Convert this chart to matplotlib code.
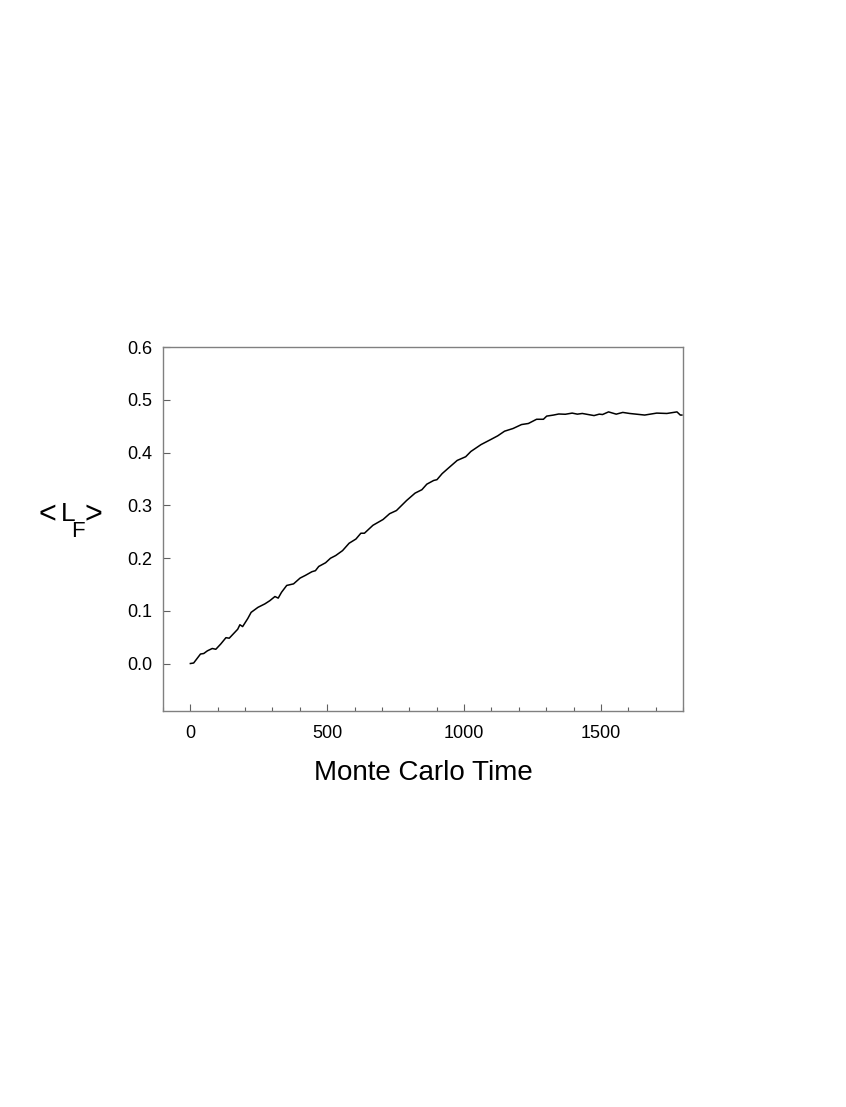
import matplotlib
matplotlib.use('Agg')
import matplotlib.pyplot as plt
from matplotlib.ticker import MultipleLocator

plt.rcParams['font.family'] = ['Liberation Sans', 'DejaVu Sans']

# values
mc_time = [0, 12, 37, 49, 62, 80, 93, 111, 130, 142, 173, 181, 191, 210, 222,
           247, 272, 290, 309, 321, 333, 352, 377, 401, 420, 444, 457, 469, 494,
           512, 531, 556, 580, 605, 623, 636, 667, 704, 728, 753, 790, 821, 846,
           864, 889, 901, 920, 944, 975, 1006, 1025, 1062, 1099, 1123, 1148,
           1179, 1210, 1235, 1265, 1290, 1302, 1327, 1346, 1370, 1395, 1414,
           1432, 1475, 1494, 1506, 1528, 1556, 1580, 1605, 1660, 1704, 1741,
           1778, 1790, 1796]
lf_mean = [0.0, 0.001, 0.018, 0.019, 0.024, 0.0285, 0.027, 0.037, 0.049, 0.048,
           0.065, 0.0735, 0.070, 0.0855, 0.097, 0.1065, 0.113, 0.119, 0.127,
           0.124, 0.135, 0.148, 0.151, 0.162, 0.167, 0.174, 0.176, 0.184, 0.191,
           0.1996, 0.2047, 0.214, 0.228, 0.236, 0.247, 0.247, 0.262, 0.273,
           0.284, 0.290, 0.309, 0.323, 0.3295, 0.340, 0.347, 0.3485, 0.360,
           0.371, 0.385, 0.392, 0.402, 0.415, 0.425, 0.4316, 0.4404, 0.4455,
           0.453, 0.455, 0.463, 0.463, 0.469, 0.471, 0.473, 0.4725, 0.4747,
           0.4727, 0.474, 0.470, 0.4727, 0.472, 0.477, 0.4727, 0.476, 0.474,
           0.471, 0.4747, 0.474, 0.477, 0.471, 0.471]

W, H = 846, 1107
fig = plt.figure(figsize=(W / 100, H / 100), dpi=100)
ax = fig.add_axes([163 / W, 1 - 711 / H, 520 / W, 364 / H])

ax.plot(mc_time, lf_mean, color='black', lw=1.1)

ax.set_xlim(-100, 1800)
ax.set_ylim(-0.09, 0.6)
ax.set_xticks([0, 500, 1000, 1500])
ax.xaxis.set_minor_locator(MultipleLocator(100))
ax.set_yticks([0.0, 0.1, 0.2, 0.3, 0.4, 0.5, 0.6])
ax.set_yticklabels(['0.0', '0.1', '0.2', '0.3', '0.4', '0.5', '0.6'])

for s in ax.spines.values():
    s.set_color('#808080')
    s.set_linewidth(1.0)
ax.tick_params(which='major', direction='in', length=5, width=0.8,
               color='#606060', labelsize=13)
ax.tick_params(which='minor', direction='in', length=3, width=0.8,
               color='#606060')
ax.tick_params(axis='x', which='both', top=False, pad=10)
ax.tick_params(axis='y', which='both', right=False, pad=8)

ax.set_xlabel('Monte Carlo Time', fontsize=20, labelpad=13)

# y label <L_F>, drawn horizontally with a low subscript
fig.text(38 / W, 1 - 523 / H, '<', fontsize=22, ha='left', va='baseline')
fig.text(61 / W, 1 - 521 / H, 'L', fontsize=19, ha='left', va='baseline')
fig.text(71 / W, 1 - 537 / H, 'F', fontsize=16, ha='left', va='baseline')
fig.text(84 / W, 1 - 523 / H, '>', fontsize=22, ha='left', va='baseline')

fig.savefig('out.png', dpi=100)
